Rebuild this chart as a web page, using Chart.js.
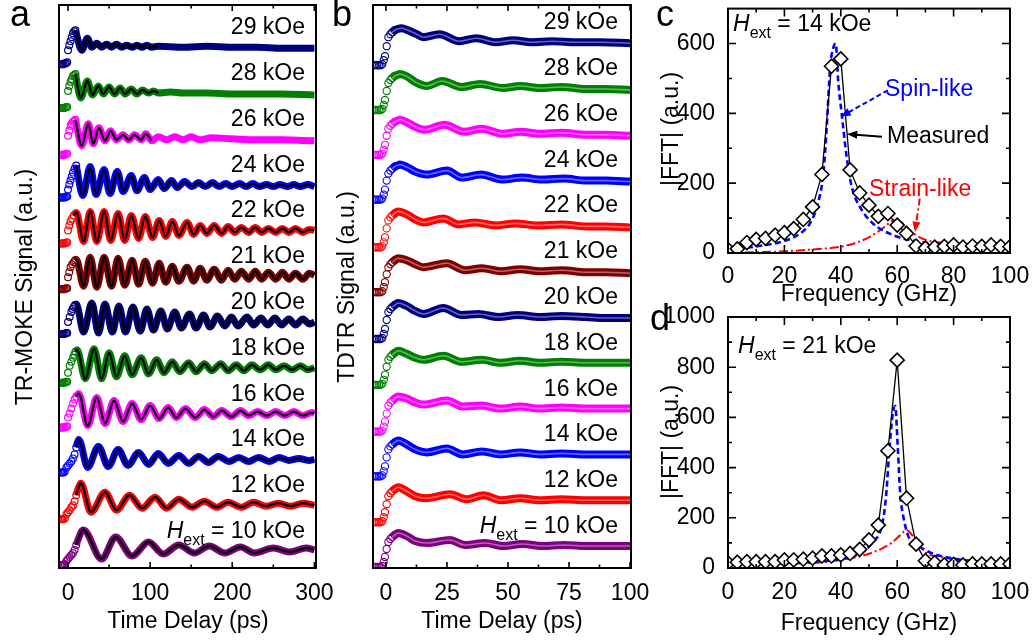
<!DOCTYPE html>
<html>
<head>
<meta charset="utf-8">
<script src="https://cdn.jsdelivr.net/npm/chart.js@4.4.0/dist/chart.umd.min.js"></script>
<style>
  body { margin: 0; background: #fff; width: 1034px; height: 640px; overflow: hidden; position: relative;
         font-family: 'Liberation Sans', Arial, Helvetica, sans-serif; }
  canvas { position: absolute; left: 0; top: 0; }
  .lbl { position: absolute; font-size: 23px; line-height: 1; white-space: nowrap; color: #000; }
  .ttl { position: absolute; font-size: 23px; line-height: 1; white-space: nowrap; color: #000; transform: translate(-50%, -50%); }
  .ttl.rot { transform: translate(-50%, -50%) rotate(-90deg); }
  .panel { position: absolute; font-size: 36px; line-height: 1; color: #000; }
  .sub { font-size: 16px; position: relative; top: 7px; }
</style>
</head>
<body>
<canvas id="chartA" width="1034" height="640"></canvas>
<canvas id="chartB" width="1034" height="640"></canvas>
<canvas id="chartC" width="1034" height="640"></canvas>
<canvas id="chartD" width="1034" height="640"></canvas>

<div class="panel" style="left:10px; top:-4px;">a</div>
<div class="panel" style="left:332px; top:-4px;">b</div>
<div class="panel" style="left:656px; top:-4px;">c</div>
<div class="panel" style="left:650px; top:300px;">d</div>

<!-- axis titles -->
<div class="ttl" style="left:188px; top:620px;">Time Delay (ps)</div>
<div class="ttl" style="left:502px; top:620px;">Time Delay (ps)</div>
<div class="ttl" style="left:869px; top:293px;">Frequency (GHz)</div>
<div class="ttl" style="left:869px; top:622px;">Frequency (GHz)</div>
<div class="ttl rot" style="left:24px; top:287px;">TR-MOKE Signal (a.u.)</div>
<div class="ttl rot" style="left:346px; top:287px;">TDTR Signal (a.u.)</div>
<div class="ttl rot" style="left:670px; top:129px;">|FFT| (a.u.)</div>
<div class="ttl rot" style="left:670px; top:442px;">|FFT| (a.u.)</div>

<!-- annotations -->
<div class="lbl" style="left:733px; top:23px; transform:translateY(-50%);"><i>H</i><span class="sub">ext</span> = 14 kOe</div>
<div class="lbl" style="left:738px; top:345px; transform:translateY(-50%);"><i>H</i><span class="sub">ext</span> = 21 kOe</div>
<div class="lbl" style="left:885px; top:88px; transform:translateY(-50%); color:#0000ff;">Spin-like</div>
<div class="lbl" style="left:887px; top:135px; transform:translateY(-50%);">Measured</div>
<div class="lbl" style="left:869px; top:188px; transform:translateY(-50%); color:#ff0000;">Strain-like</div>

<script>
// ---- data: fields (bottom to top) and trace colours ----
const fields = ['10', '12', '14', '16', '18', '20', '21', '22', '24', '26', '28', '29'];
const traceColors = ['#800080', '#ff0000', '#0000ff', '#ff00ff', '#008000', '#000080',
                     '#800000', '#ff0000', '#0000ff', '#ff00ff', '#008000', '#000080'];
const OFFSET_STEP = 45.8;

// ---- panel a: TR-MOKE, [time ps, signal] (pre-zero + rise, then extrema) ----
const moke10 = [[-10,-14],[-8.5,-14],[-7,-14],[-5.5,-14],[-4,-13],[-2,-10],[0,-8],[2,-6],[4,-4],[6,-2],[8,1],[10,6],[12,11],[14,15],[16,19],[18.7,21],
  [41,-8],[58,14],[78,-5],[98,9],[116,-3],[135,6],[154,-2],[172,5],[191,-2],[210,4],[227,-2],[250,3],[270,-1],[290,3],[300,1]];
const moke12 = [[-10,-14],[-8.5,-14],[-7,-14],[-5.5,-14],[-4,-13],[-2,-9],[0,-7],[2,-5],[4,-2],[6,0],[8,4],[10,10],[12,16],[14,20],[15.5,22],
  [28,-7],[45,13],[59,-5],[75,10],[90,-3],[106,8],[120,-3],[135,6],[151,-2],[166,4],[181,-2],[195,3],[211,-2],[226,3],[241,-1],[256,2],[271,-1],[286,2],[300,0]];
const moke14 = [[-10,-13],[-8.5,-13],[-7,-13],[-5.5,-13],[-4,-12],[-2,-8],[0,-6],[2,-4],[4,-2],[6,1],[8,5],[10,12],[11.5,17],[13,20],
  [24,-8],[37,13],[49,-7],[61,10],[73,-6],[86,7],[98,-5],[110,6],[122,-4],[135,4],[147,-4],[159,3],[171,-3],[183,3],[196,-2],[208,2],[220,-2],[232,2],[245,-2],[257,2],[269,-1],[281,1],[293,-1],[300,0]];
const moke16 = [[-10,-14],[-8.5,-14],[-7,-14],[-5.5,-14],[-4,-14],[-2.5,-13],[-1,-13],[0,-4],[2,0],[4,5],[6,10],[8,14],[10,17],[11.5,19],[13,20],
  [24,-12],[35,16],[45,-10],[56,13],[67,-8],[78,10],[89,-6],[100,8],[111,-5],[122,6],[132,-4],[143,5],[155,-4],[166,4],[177,-3],[187,3],[199,-3],[210,3],[220,-2],[231,2],[242,-2],[253,2],[264,-2],[275,2],[286,-2],[297,1],[300,0]];
const moke18 = [[-10,-15],[-8.5,-15],[-7,-15],[-5.5,-15],[-4,-15],[-2.5,-14],[-1,-14],[0,-5],[2,2],[4,6],[6,10],[7.5,13],[9,16],[11,18],
  [21,-11],[31.7,19],[41,-11],[50,15],[59,-9],[69,12],[78,-7],[89,10],[98,-6],[108,8],[117,-5],[127,6],[136,-4],[147,5],[156,-4],[166,4],[175,-3],[186,4],[195,-3],[205,3],[214,-3],[224,3],[234,-2],[244,3],[253,-2],[263,2],[273,-2],[283,2],[292,-2],[300,0]];
const moke20 = [[-10,-12],[-8.5,-12],[-7,-12],[-5.5,-12],[-4,-12],[-2.5,-11],[-1,-11],[0,0],[2,5],[4,10],[5.5,13],[7,15],[8.5,17],[10,18],
  [19,-10],[29,19],[37,-11],[45,18],[54,-10],[62,16],[70,-10],[79,15],[88,-9],[96,13],[104,-8],[113,11],[121,-7],[130,10],[138,-6],[148,8],[156,-6],[165,7],[173,-5],[182,6],[191,-4],[199,5],[207,-4],[218,5],[226,-3],[235,4],[243,-3],[252,4],[260,-3],[269,3],[277,-3],[286,3],[294,-2],[300,0]];
const moke21 = [[-10,-13],[-8.5,-13],[-7,-13],[-5.5,-13],[-4,-13],[-2.5,-12],[-1,-12],[0,-1],[1.5,4],[3,9],[5,12],[7,14],[8.5,16],[10,17],
  [19,-10],[27,19],[35,-11],[44,19],[53,-10],[61,18],[69,-9],[78,16],[86,-8],[94,15],[103,-7],[111,13],[119,-6],[127,10],[135,-5],[145,9],[153,-5],[161,8],[169,-4],[178,7],[187,-4],[195,6],[203,-3],[211,5],[220,-3],[228,5],[236,-3],[244,4],[253,-3],[261,4],[269,-3],[277,3],[286,-3],[294,3],[300,1]];
const moke22 = [[-10,-13],[-8.5,-13],[-7,-13],[-5.5,-13],[-4,-13],[-2.5,-12],[-1,-12],[0,0],[1.5,5],[3,9],[5,12],[7,15],[8.5,17],[10,18],
  [19,-11],[27,19],[35,-11],[44,19],[52,-10],[61,17],[69,-10],[77,15],[86,-8],[94,14],[103,-7],[111,10],[119,-6],[127,9],[135,-5],[145,8],[153,-4],[161,5],[169,-3],[178,5],[187,-3],[195,4],[203,-2],[211,3],[220,-2],[228,3],[236,-2],[244,2],[253,-2],[261,2],[269,-2],[277,2],[286,-2],[294,1],[300,0]];
const moke24 = [[-10,-13],[-8.5,-13],[-7,-13],[-5.5,-13],[-4,-13],[-2.5,-12],[-1,-12],[0,-5],[1.5,0],[3,4],[4.5,8],[6,12],[8,16],[10,19],
  [18,-11],[27,18],[34,-10],[44,15],[51,-9],[60,13],[67,-7],[77,9],[84,-6],[93,7],[100,-5],[110,5],[117,-4],[126,4],[133,-3],[142,3],[151,-2],[159,2],[167,-2],[176,2],[184,-2],[192,1],[200,-2],[209,1],[217,-2],[225,1],[233,-2],[242,0],[250,-2],[258,0],[267,-2],[275,0],[283,-2],[292,0],[300,-2]];
const moke26 = [[-10,-16],[-8.5,-16],[-7,-16],[-5.5,-16],[-4,-16],[-2.5,-15],[-1,-15],[0,3],[1.5,8],[3,13],[4.5,15],[6,17],[7.5,18],[9,19],
  [16.7,-7],[24.7,15],[30.8,-5],[37.6,11],[45,-2],[52,8],[59,-1],[67,4],[74,-1],[81,4],[89,-1],[94.6,5],[102,-2],[110,2],[120,-1],[130,2],[140,-1],[150,2],[160,-1],[175,1],[200,0],[230,-1],[260,-1],[300,-2]];
const moke28 = [[-10,-15],[-8.5,-15],[-7,-15],[-5.5,-15],[-4,-15],[-2.5,-14],[-1,-14],[0,2],[1.5,7],[3,11],[4.5,14],[6,17],[7.5,18],[9,19],
  [15.5,-5],[23.6,12],[29.7,-2],[37,7],[43,-1],[50,6],[56.5,-1],[63.5,5],[69.5,-1],[77,4],[84,-1],[90.6,3],[98,0],[104,2],[110,0],[125,1],[140,0],[170,0],[200,-1],[230,-1],[260,-1],[300,-2]];
const moke29 = [[-10,-17],[-8.5,-17],[-7,-17],[-5.5,-17],[-4,-16],[-2.5,-16],[-1,-15],[0,-3],[1.5,2],[3,6],[4.5,10],[6,14],[7.5,16],[9,17],
  [16.7,-3],[23.6,9],[29,0],[35,4],[41,0],[47,3],[53,0],[59,3],[65,0],[71,2],[78,0],[84,2],[90,0],[96,2],[102,0],[110,1],[140,0],[170,1],[200,0],[230,0],[260,-1],[300,-1]];
const mokeFitStart = [10, 10, 10, 10, 9, 8.5, 8.5, 7, 10, 9, 9, 9];
const mokeFitEnd = [300, 300, 300, 300, 300, 300, 300, 300, 300, 108, 110, 110];

// ---- panel b: TDTR, [time ps, signal] ----
const tdtr10 = [[-5,-21],[-4.3,-21],[-3.6,-21],[-2.9,-21],[-2.2,-21],[-1.5,-20],[-0.9,-16],[-0.4,-11],[0.3,-3],[1,4],[1.8,7],[2.6,9],[3.6,11],[5,13],[8.5,10],[12,5],[16.7,3],[26.2,6],[32.4,1],[40.7,3],[48,0],[56,2],[64,0],[73,1],[82,0],[90,0],[100,0]];
const tdtr12 = [[-5,-22],[-4.3,-22],[-3.6,-22],[-2.9,-22],[-2.2,-22],[-1.5,-21],[-0.9,-17],[-0.4,-12],[0.3,-4],[1,4],[1.8,7],[2.6,9],[3.6,11],[5,13],[8.5,9],[12,4],[16.7,2],[26.2,6],[33,1],[40,5],[47,0],[55,2],[63,0],[72,1],[82,0],[90,0],[100,0]];
const tdtr14 = [[-5,-22],[-4.3,-22],[-3.6,-22],[-2.9,-22],[-2.2,-22],[-1.5,-21],[-0.9,-17],[-0.4,-12],[0.3,-3],[1,5],[1.8,8],[2.6,10],[3.6,12],[5,14],[8.5,10],[12,5],[16.7,2],[24.9,6],[31.5,0],[39.3,3],[47,0],[55,2],[63,0],[72,1],[82,0],[90,0],[100,0]];
const tdtr16 = [[-5,-23],[-4.3,-23],[-3.6,-23],[-2.9,-23],[-2.2,-23],[-1.5,-22],[-0.9,-18],[-0.4,-13],[0.3,-5],[1,3],[1.8,6],[2.6,8],[3.6,10],[5,12],[8.5,10],[12,6],[15.3,4],[24.9,8],[31.5,2],[39,3],[47,0],[55,2],[63,0],[72,1],[82,0],[90,0],[100,0]];
const tdtr18 = [[-5,-22],[-4.3,-22],[-3.6,-22],[-2.9,-22],[-2.2,-22],[-1.5,-21],[-0.9,-17],[-0.4,-12],[0.3,-4],[1,3],[1.8,6],[2.6,8],[3.6,10],[5,12],[8.5,9],[12,5],[15.3,3],[23.5,7],[31,1],[39.3,3],[47,0],[55,2],[63,0],[72,1],[82,0],[90,0],[100,0]];
const tdtr20 = [[-5,-22],[-4.3,-22],[-3.6,-22],[-2.9,-22],[-2.2,-22],[-1.5,-21],[-0.9,-17],[-0.4,-12],[0.3,-3],[1,5],[1.8,8],[2.6,10],[3.6,12],[5,14],[8.5,11],[12,6],[15.3,3],[23.5,9],[31,2],[37.9,3],[46,0],[54,2],[63,0],[72,1],[82,0],[90,-1],[100,-1]];
const tdtr21 = [[-5,-21],[-4.3,-21],[-3.6,-21],[-2.9,-21],[-2.2,-21],[-1.5,-20],[-0.9,-16],[-0.4,-11],[0.3,-3],[1,4],[1.8,7],[2.6,9],[3.6,11],[5,13],[8.5,11],[12,7],[15.3,4],[24.9,8],[32.4,1],[39.3,3],[47,0],[55,2],[63,0],[72,1],[82,-1],[90,-1],[100,-2]];
const tdtr22 = [[-5,-22],[-4.3,-22],[-3.6,-22],[-2.9,-22],[-2.2,-22],[-1.5,-21],[-0.9,-17],[-0.4,-12],[0.3,-3],[1,5],[1.8,8],[2.6,10],[3.6,12],[5,14],[8.5,11],[12,6],[15.3,3],[23.5,7],[29.6,1],[36.5,3],[45,0],[53,2],[62,0],[72,1],[82,-1],[90,-1],[100,-2]];
const tdtr24 = [[-5,-20],[-4.3,-20],[-3.6,-20],[-2.9,-20],[-2.2,-20],[-1.5,-19],[-0.9,-15],[-0.4,-10],[0.3,-1],[1,6],[1.8,9],[2.6,11],[3.6,13],[4.6,14],[5.7,15],[9,12],[12,8],[16.7,5],[25,9],[31,2],[39,5],[47.5,0],[55.7,2],[64,0],[73,1],[82,-1],[90,-1],[100,-2]];
const tdtr26 = [[-5,-21],[-4.3,-21],[-3.6,-21],[-2.9,-21],[-2.2,-21],[-1.5,-20],[-0.9,-16],[-0.4,-11],[0.3,-2],[1,5],[1.8,8],[2.6,10],[3.6,12],[4.6,13],[5.7,14],[9,11],[12,7],[16,4],[24,9],[32,2],[39,5],[48,0],[55,2],[63,0],[72,1],[82,-1],[90,-1],[100,-2]];
const tdtr28 = [[-5,-22],[-4.3,-22],[-3.6,-22],[-2.9,-22],[-2.2,-22],[-1.5,-21],[-0.9,-17],[-0.4,-12],[0.3,-3],[1,5],[1.8,8],[2.6,10],[3.6,12],[4.6,13],[5.7,14],[9,11],[12,6],[16.7,2],[23,7],[31,1],[38.5,4],[48,0],[55,2],[63,0],[72,1],[82,-1],[90,-1],[100,-2]];
const tdtr29 = [[-5,-23],[-4.3,-23],[-3.6,-23],[-2.9,-23],[-2.2,-23],[-1.5,-22],[-0.9,-18],[-0.4,-14],[0.3,-4],[1,5],[1.8,8],[2.6,10],[3.6,12],[4.6,13],[6.4,14],[9,12],[12.6,8],[15.3,5],[22,8],[30,1],[37,4],[45,0],[52,2],[60,0],[68,1],[78,0],[88,0],[100,-1]];
const TDTR_CIRCLES_UNTIL = 3.6;
const TDTR_BAND_FROM = 2.6;

// ---- panels c, d: FFT spectra ----
const fftFreq = [0, 3.3, 6.7, 10, 13.3, 16.7, 20, 23.3, 26.7, 30, 33.3, 36.7, 40, 43.3, 46.7, 50,
                 53.3, 56.7, 60, 63.3, 66.7, 70, 73.3, 76.7, 80, 83.3, 86.7, 90, 93.3, 96.7, 100];
const fft14 = [10, 12, 30, 39, 42, 51, 58, 70, 96, 132, 225, 535, 556, 238, 172, 137,
               105, 113, 80, 56, 20, 14, 17, 19, 23, 17, 20, 19, 23, 19, 18];
const fft21 = [20, 23, 25, 25, 25, 25, 32, 32, 35, 39, 48, 48, 52, 58, 74, 112,
               171, 467, 828, 278, 95, 29, 21, 12, 14, 12, 16, 16, 16, 16, 16];
const spin14 = [[0,10],[11,20],[21,37],[25.6,56],[29,84],[31.5,132],[33.8,227],[35,359],[36.2,530],[37.5,592],[38.2,600],
                [39.1,490],[40.3,400],[42.1,274],[43.9,189],[46.8,132],[51.5,84],[58.6,51],[68,32],[80,24],[90,20],[100,17]];
const strain14 = [[0,0],[10,2],[20,5],[30,10],[40,18],[45,28],[50,45],[53,60],[56,78],[58.6,94],[60.5,95],[62.5,80],
                  [64.5,65],[66.5,52],[70,38],[75,30],[80,26],[90,20],[100,16]];
const spin21 = [[0,18],[20,20],[29,25],[42,39],[46.8,58],[51.5,105],[54.5,165],[56,280],[57.4,497],[58.5,620],[59.3,645],
                [60.2,480],[61.1,290],[62,215],[64,125],[68,85],[72,60],[76.4,45],[85,30],[100,20]];
const strain21 = [[0,15],[30,20],[39.7,32],[45,42],[50.3,58],[55,80],[58,100],[61,130],[63.3,151],[65,135],[67.5,95],
                  [70.5,58],[75,45],[82.3,32],[90,24],[100,16]];

// ---- tick values ----
const timeTicksA = [0, 100, 200, 300];
const timeMinorA = [50, 150, 250];
const timeTicksB = [0, 25, 50, 75, 100];
const timeMinorB = [12.5, 37.5, 62.5, 87.5];
const freqTicks = [0, 20, 40, 60, 80, 100];
const freqMinor = [10, 30, 50, 70, 90];
const fftTicksC = [0, 200, 400, 600];
const fftMinorC = [100, 300, 500];
const fftTicksD = [0, 200, 400, 600, 800, 1000];
const fftMinorD = [100, 300, 500, 700, 900];

// arrows in panel c: [from, to] in data units
const spinArrow = [[56.7, 466], [39.9, 390]];
const measuredArrow = [[54.6, 333], [42.2, 341]];
const strainArrow = [[68, 156], [66.3, 60]];

// ---------------------------------------------------------------
Chart.defaults.font.family = "'Liberation Sans', Arial, Helvetica, sans-serif";
Chart.defaults.color = '#000';

const pt = ([x, y], dy = 0) => ({ x, y: y + dy });

// frame, inward ticks on all four sides, and arrows
const framePlugin = {
  id: 'frame',
  afterDatasetsDraw(chart, args, o) {
    const { ctx, chartArea: a, scales } = chart;
    const sx = scales.x, sy = scales.y;
    ctx.save();
    ctx.strokeStyle = '#000';
    ctx.lineWidth = 1.6;
    ctx.beginPath();
    const xt = (vals, len) => vals.forEach(v => {
      const p = sx.getPixelForValue(v);
      ctx.moveTo(p, a.bottom); ctx.lineTo(p, a.bottom - len);
      ctx.moveTo(p, a.top); ctx.lineTo(p, a.top + len);
    });
    const yt = (vals, len) => vals.forEach(v => {
      const p = sy.getPixelForValue(v);
      ctx.moveTo(a.left, p); ctx.lineTo(a.left + len, p);
      ctx.moveTo(a.right, p); ctx.lineTo(a.right - len, p);
    });
    xt(o.xMajor || [], o.major); xt(o.xMinor || [], o.minor);
    yt(o.yMajor || [], o.major); yt(o.yMinor || [], o.minor);
    ctx.stroke();
    ctx.lineWidth = 2;
    ctx.strokeRect(a.left, a.top, a.width, a.height);

    (o.arrows || []).forEach(ar => {
      const x1 = sx.getPixelForValue(ar.path[0][0]), y1 = sy.getPixelForValue(ar.path[0][1]);
      const x2 = sx.getPixelForValue(ar.path[1][0]), y2 = sy.getPixelForValue(ar.path[1][1]);
      const ang = Math.atan2(y2 - y1, x2 - x1), h = 11;
      ctx.strokeStyle = ar.color; ctx.fillStyle = ar.color;
      ctx.lineWidth = 2; ctx.setLineDash(ar.dash);
      ctx.beginPath(); ctx.moveTo(x1, y1);
      ctx.lineTo(x2 - 6 * Math.cos(ang), y2 - 6 * Math.sin(ang)); ctx.stroke();
      ctx.setLineDash([]);
      ctx.beginPath(); ctx.moveTo(x2, y2);
      ctx.lineTo(x2 - h * Math.cos(ang - 0.38), y2 - h * Math.sin(ang - 0.38));
      ctx.lineTo(x2 - h * Math.cos(ang + 0.38), y2 - h * Math.sin(ang + 0.38));
      ctx.closePath(); ctx.fill();
    });
    ctx.restore();
  }
};

const TICK_FONT = { size: 23 };

const xAxis = (min, max, ticks, pad) => ({
  type: 'linear', min, max,
  grid: { display: false }, border: { display: false },
  ticks: { font: TICK_FONT, padding: pad, maxRotation: 0, autoSkip: false, callback: v => String(v) },
  afterBuildTicks: s => { s.ticks = ticks.map(v => ({ value: v })); },
  afterFit: s => { s.paddingLeft = 0; s.paddingRight = 0; }
});

const yAxis = (min, max, ticks, pad) => ticks
  ? { type: 'linear', min, max,
      grid: { display: false }, border: { display: false },
      ticks: { font: TICK_FONT, padding: pad, autoSkip: false, callback: v => String(v) },
      afterBuildTicks: s => { s.ticks = ticks.map(v => ({ value: v })); },
      afterFit: s => { s.paddingTop = 0; s.paddingBottom = 0; } }
  : { type: 'linear', min, max, display: false };

const baseOptions = (padding, scales, frame) => ({
  responsive: false, animation: false, devicePixelRatio: 1,
  layout: { padding },
  plugins: { legend: { display: false }, tooltip: { enabled: false }, frame },
  elements: { point: { radius: 0, hoverRadius: 0 }, line: { cubicInterpolationMode: 'monotone' } },
  scales
});

// nudge layout padding until the plot area sits exactly where wanted
const fitArea = (chart, box) => {
  const p = chart.config.options.layout.padding;
  for (let i = 0; i < 5; i++) {
    const a = chart.chartArea;
    const dl = box.left - a.left, dt = box.top - a.top, dr = a.right - box.right, db = a.bottom - box.bottom;
    if (Math.abs(dl) + Math.abs(dt) + Math.abs(dr) + Math.abs(db) < 0.3) break;
    p.left += dl; p.top += dt; p.right += dr; p.bottom += db;
    chart.update();
  }
};

// ---- panel a ----
const mokeTraces = [moke10, moke12, moke14, moke16, moke18, moke20, moke21, moke22, moke24, moke26, moke28, moke29];
const mokeDatasets = [];
mokeTraces.forEach((tr, k) => {
  const dy = k * OFFSET_STEP, c = traceColors[k], t0 = mokeFitStart[k], t1 = mokeFitEnd[k];
  mokeDatasets.push(
    { data: tr.filter(p => p[0] >= t0 && p[0] <= t1).map(p => pt(p, dy)), borderColor: '#000', borderWidth: 2.3, order: 0 },
    { data: tr.filter(p => p[0] <= t0).map(p => pt(p, dy)), showLine: false, pointRadius: 3.4, pointBorderWidth: 1.2,
      pointBorderColor: c, pointBackgroundColor: 'rgba(255,255,255,0)', order: 1 },
    { data: tr.filter(p => p[0] >= t0).map(p => pt(p, dy)), borderColor: c, borderWidth: 7, order: 2 }
  );
});

const chartA = new Chart(document.getElementById('chartA'), {
  type: 'line',
  data: { datasets: mokeDatasets },
  options: baseOptions(
    { left: 59, top: 5, right: 718, bottom: 40 },
    { x: xAxis(-11, 302, timeTicksA, 4.2), y: yAxis(-17, 546, null) },
    { xMajor: timeTicksA, xMinor: timeMinorA, major: 6, minor: 3.5 }
  ),
  plugins: [framePlugin]
});
fitArea(chartA, { left: 59, top: 5, right: 316, bottom: 568 });

// ---- panel b ----
const tdtrTraces = [tdtr10, tdtr12, tdtr14, tdtr16, tdtr18, tdtr20, tdtr21, tdtr22, tdtr24, tdtr26, tdtr28, tdtr29];
const tdtrDatasets = [];
tdtrTraces.forEach((tr, k) => {
  const dy = k * OFFSET_STEP, c = traceColors[k];
  const band = tr.filter(p => p[0] >= TDTR_BAND_FROM).map(p => pt(p, dy));
  tdtrDatasets.push(
    { data: band, borderColor: 'rgba(255,255,255,0.4)', borderWidth: 1.6, order: 0 },
    { data: tr.filter(p => p[0] <= TDTR_CIRCLES_UNTIL).map(p => pt(p, dy)), showLine: false, pointRadius: 3.6,
      pointBorderWidth: 1.1, pointBorderColor: c, pointBackgroundColor: 'rgba(255,255,255,0)', order: 1 },
    { data: band, borderColor: c, borderWidth: 8, order: 2 }
  );
});

const chartB = new Chart(document.getElementById('chartB'), {
  type: 'line',
  data: { datasets: tdtrDatasets },
  options: baseOptions(
    { left: 373, top: 5, right: 403, bottom: 40 },
    { x: xAxis(-5.3, 100.4, timeTicksB, 4.2), y: yAxis(-22, 541, null) },
    { xMajor: timeTicksB, xMinor: timeMinorB, major: 6, minor: 3.5 }
  ),
  plugins: [framePlugin]
});
fitArea(chartB, { left: 373, top: 5, right: 631, bottom: 568 });

// ---- panels c and d ----
const fftDatasets = (measured, spin, strain) => [
  { data: fftFreq.map((f, i) => ({ x: f, y: measured[i] })), borderColor: '#000', borderWidth: 1.3,
    cubicInterpolationMode: 'default', tension: 0, pointStyle: 'rectRot', pointRadius: 7,
    pointBorderWidth: 1.6, pointBorderColor: '#000', pointBackgroundColor: '#fff', order: 0 },
  { data: spin.map(p => pt(p)), borderColor: '#0000ff', borderWidth: 2.6, borderDash: [6, 3.5], order: 1 },
  { data: strain.map(p => pt(p)), borderColor: '#ff0000', borderWidth: 2, borderDash: [9, 3, 2, 3], order: 2 }
];

const chartC = new Chart(document.getElementById('chartC'), {
  type: 'line',
  data: { datasets: fftDatasets(fft14, spin14, strain14) },
  options: baseOptions(
    { left: 680, top: 5, right: 24, bottom: 350 },
    { x: xAxis(0, 100, freqTicks, 1.5), y: yAxis(0, 700, fftTicksC, 5) },
    { xMajor: freqTicks, xMinor: freqMinor, yMajor: fftTicksC, yMinor: fftMinorC, major: 8, minor: 4,
      arrows: [
        { path: spinArrow, color: '#0000ff', dash: [5, 3] },
        { path: measuredArrow, color: '#000', dash: [] },
        { path: strainArrow, color: '#ff0000', dash: [7, 3, 2, 3] }
      ] }
  ),
  plugins: [framePlugin]
});
fitArea(chartC, { left: 728, top: 5, right: 1010, bottom: 253 });

const chartD = new Chart(document.getElementById('chartD'), {
  type: 'line',
  data: { datasets: fftDatasets(fft21, spin21, strain21) },
  options: baseOptions(
    { left: 670, top: 317, right: 24, bottom: 40 },
    { x: xAxis(0, 100, freqTicks, 3.2), y: yAxis(0, 1000, fftTicksD, 5) },
    { xMajor: freqTicks, xMinor: freqMinor, yMajor: fftTicksD, yMinor: fftMinorD, major: 8, minor: 4 }
  ),
  plugins: [framePlugin]
});
fitArea(chartD, { left: 728, top: 317, right: 1010, bottom: 568 });

// ---- field labels, placed from the y scales ----
const addFieldLabels = (chart, rightX) => {
  fields.forEach((f, k) => {
    const d = document.createElement('div');
    d.className = 'lbl';
    d.innerHTML = k === 0 ? `<i>H</i><span class="sub">ext</span> = ${f} kOe` : `${f} kOe`;
    const y = chart.scales.y.getPixelForValue(k * OFFSET_STEP) - 21;
    d.style.right = (1034 - rightX) + 'px';
    d.style.top = y + 'px';
    d.style.transform = 'translateY(-50%)';
    document.body.appendChild(d);
  });
};
addFieldLabels(chartA, 305);
addFieldLabels(chartB, 618);
</script>
</body>
</html>
